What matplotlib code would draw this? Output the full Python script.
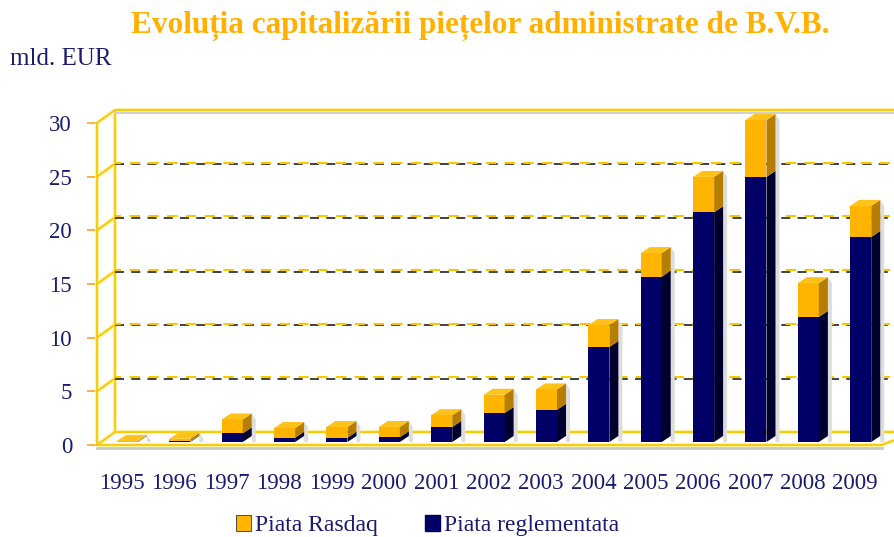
import matplotlib.pyplot as plt
from matplotlib.patches import Polygon, Patch

years = ["1995", "1996", "1997", "1998", "1999", "2000", "2001", "2002",
         "2003", "2004", "2005", "2006", "2007", "2008", "2009"]
# mld. EUR
reglementata = [0.03, 0.05, 0.8, 0.4, 0.4, 0.45, 1.4, 2.7, 3.0, 8.85, 15.4, 21.4, 24.7, 11.65, 19.1]
total = [0.1, 0.3, 2.1, 1.3, 1.4, 1.4, 2.5, 4.4, 4.9, 10.9, 17.6, 24.7, 30.0, 14.8, 22.0]
rasdaq = [t - r for t, r in zip(total, reglementata)]
yticks = [0, 5, 10, 15, 20, 25, 30]

navy = "#000066"
navy_side = "#00002e"
orange = "#FFB400"
orange_side = "#B57E00"
orange_top = "#FFC21A"
gold = "#F5C800"
pale = "#FFF2A0"
txt = "#1A1A6E"
font = "Liberation Serif"

fig = plt.figure(figsize=(8.94, 5.37), dpi=100)
ax = fig.add_axes([97 / 894, 92 / 537, 797 / 894, 322 / 537])
x0, x1 = -0.477, 14.74
ax.set_xlim(x0, x1)
ax.set_ylim(0, 30)
for s in ax.spines.values():
    s.set_visible(False)

# pixel -> data
px = 1 / 52.36
py = 30 / 322

# walls
wdx, wdy = 18 * px, 13 * py
bx = x0 + wdx
kw = dict(clip_on=False, solid_capstyle="butt")
for lw, c in [(3.0, pale), (1.3, gold)]:
    ax.plot([x0, x0], [0, 30], color=c, lw=lw, **kw)
    ax.plot([bx, bx], [wdy, 30 + wdy], color=c, lw=lw, **kw)
    ax.plot([bx, x1], [30 + wdy, 30 + wdy], color=c, lw=lw, **kw)
    ax.plot([bx, x1], [wdy, wdy], color=c, lw=lw, **kw)
    ax.plot([x0, 14.51], [0, 0], color=c, lw=lw, **kw)
    ax.plot([14.51, x1], [0, 0.45], color=c, lw=lw, **kw)
    for k in yticks:
        ax.plot([x0, bx], [k, k + wdy], color=c, lw=lw, **kw)
# shadows under the top and front edges
ax.plot([bx, x1], [30 + wdy - 3 * py] * 2, color="#d0d0d0", lw=1.5, clip_on=False)
ax.plot([x0, 14.51], [-3 * py] * 2, color="#c8c8c8", lw=2, clip_on=False)

# dashed gridlines on the back wall
for k in yticks[1:-1]:
    ax.plot([bx, x1], [k + wdy - 0.5 * py] * 2, color="#333333", lw=1.3, ls=(0, (5, 4)), clip_on=False)
    ax.plot([bx, x1], [k + wdy + 1.0 * py] * 2, color=gold, lw=1.5, ls=(2, (5, 4)), clip_on=False)

# 3D stacked bars
w = 21 * px
bdx, bdy = 9 * px, 6 * py
lift = 3 * py


def segment(xl, b, t, front, side, top=None):
    ax.bar(xl, t - b, width=w, bottom=b, align="edge", color=front, lw=0, zorder=3, clip_on=False)
    ax.add_patch(Polygon([(xl + w, b), (xl + w + bdx, b + bdy), (xl + w + bdx, t + bdy), (xl + w, t)],
                         closed=True, color=side, lw=0, zorder=3, clip_on=False))
    if top:
        ax.add_patch(Polygon([(xl, t), (xl + bdx, t + bdy), (xl + w + bdx, t + bdy), (xl + w, t)],
                             closed=True, color=top, lw=0, zorder=3, clip_on=False))


for i in range(len(years)):
    xl = i - 5 * px
    # soft shadow
    ax.add_patch(Polygon([(xl + w + bdx, lift), (xl + w + bdx + 4 * px, lift),
                          (xl + w + bdx + 4 * px, lift + total[i]), (xl + w + bdx, lift + total[i] + bdy)],
                         closed=True, color="#dddddd", lw=0, zorder=2, clip_on=False))
    segment(xl, lift, lift + reglementata[i], navy, navy_side)
    segment(xl, lift + reglementata[i], lift + total[i], orange, orange_side, orange_top)

ax.set_yticks(yticks)
ax.set_yticklabels([str(v) for v in yticks], fontsize=16.5, color=txt, family=font)
ax.tick_params(axis="y", length=7, color="#F5A623", width=1.2, pad=11)
ax.set_xticks(range(len(years)))
ax.set_xticklabels(years, fontsize=16.5, color=txt, family=font)
ax.tick_params(axis="x", length=0, pad=20)

fig.text(0.537, 1 - 33 / 537, "Evoluția capitalizării piețelor administrate de B.V.B.",
         ha="center", va="baseline", fontsize=22.5, fontweight="bold", color="#FFB000", family=font)
fig.text(10 / 894, 1 - 65 / 537, "mld. EUR", ha="left", va="baseline", fontsize=18, color=txt, family=font)

handles = [Patch(facecolor=orange, edgecolor="#333333", lw=0.6), Patch(facecolor=navy, edgecolor=navy)]
fig.legend(handles, ["Piata Rasdaq", "Piata reglementata"], loc="center", bbox_to_anchor=(0.478, 0.021),
           ncol=2, frameon=False, handlelength=0.65, handleheight=0.65, handletextpad=0.15, columnspacing=2.0,
           prop={"family": font, "size": 17}, labelcolor=txt)

fig.savefig("out.png", dpi=100)
